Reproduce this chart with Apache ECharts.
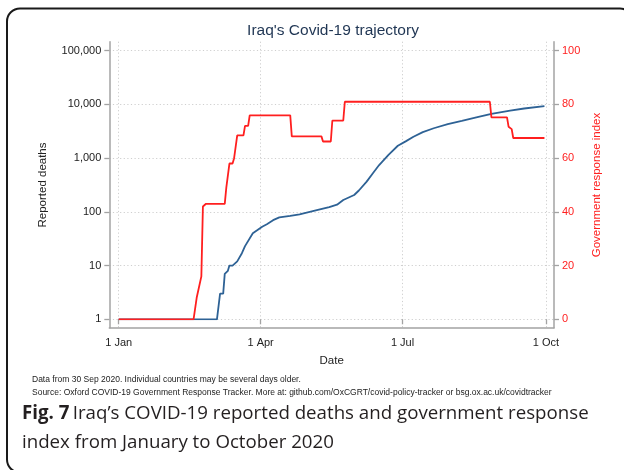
<!DOCTYPE html>
<html>
<head>
<meta charset="utf-8">
<script src="https://cdn.jsdelivr.net/npm/echarts@6/dist/echarts.min.js"></script>
<style>
  html, body { margin: 0; padding: 0; background: #fff; overflow: hidden; }
  #chart { width: 624px; height: 470px; }
</style>
</head>
<body>
<div id="chart"></div>
<script>
// Reported COVID-19 deaths in Iraq (log scale, left axis)
const deathDates = [
  '2020-01-01', '2020-03-04', '2020-03-06', '2020-03-08', '2020-03-09', '2020-03-10',
  '2020-03-11', '2020-03-12', '2020-03-14', '2020-03-17', '2020-03-18', '2020-03-20',
  '2020-03-22', '2020-03-27', '2020-03-30', '2020-04-02', '2020-04-05', '2020-04-09',
  '2020-04-13', '2020-04-20', '2020-04-26', '2020-05-09', '2020-05-15', '2020-05-20',
  '2020-05-24', '2020-05-31', '2020-06-03', '2020-06-08', '2020-06-12', '2020-06-16',
  '2020-06-22', '2020-06-28', '2020-07-03', '2020-07-08', '2020-07-14', '2020-07-21',
  '2020-07-30', '2020-08-08', '2020-08-18', '2020-08-27', '2020-09-08', '2020-09-17',
  '2020-09-30'
];
const deaths = [
  1, 1, 3, 3, 7, 7,
  8, 10, 10, 12, 13, 17,
  23, 40, 46, 53, 59, 70,
  79, 84, 90, 111, 122, 136,
  166, 206, 250, 366, 523, 744,
  1150, 1700, 2050, 2500, 3050, 3600,
  4300, 4950, 5800, 6700, 7700, 8400,
  9300
];

// Government response index (right axis)
const responseDates = [
  '2020-01-01', '2020-02-18', '2020-02-20', '2020-02-21', '2020-02-23', '2020-02-24',
  '2020-02-26', '2020-03-09', '2020-03-10', '2020-03-11', '2020-03-12', '2020-03-14',
  '2020-03-15', '2020-03-16', '2020-03-17', '2020-03-21', '2020-03-22', '2020-03-24',
  '2020-03-25', '2020-04-20', '2020-04-21', '2020-05-10', '2020-05-11', '2020-05-16',
  '2020-05-17', '2020-05-24', '2020-05-25', '2020-08-26', '2020-08-27', '2020-09-06',
  '2020-09-07', '2020-09-08', '2020-09-09', '2020-09-10', '2020-09-30'
];
const responseIndex = [
  0, 0, 8, 8, 16, 42,
  43, 43, 49, 49, 58, 58,
  60, 60, 68.5, 68.5, 72, 72,
  75.9, 75.9, 68.1, 68.1, 66.2, 66.2,
  74, 74, 81, 81, 75.2, 75.2,
  71.7, 71.7, 70.8, 67.5, 67.5
];

// Axis ticks
const xTickDates = ['2020-01-01', '2020-04-01', '2020-07-01', '2020-10-01'];
const monthNames = ['Jan', 'Feb', 'Mar', 'Apr', 'May', 'Jun', 'Jul', 'Aug', 'Sep', 'Oct', 'Nov', 'Dec'];

// dates are placed on a numeric (millisecond) axis so the quarter ticks can be set exactly
function toTime(s) {
  const p = s.split('-').map(Number);
  return new Date(p[0], p[1] - 1, p[2]).getTime();
}
const DAY = 864e5;
const xTicks = xTickDates.map(toTime);
const xMin = toTime('2020-01-01') - 6.03 * DAY;
const xMax = toTime('2020-10-01') + 5.13 * DAY;
const dateLabel = (v) => { const d = new Date(v); return d.getDate() + ' ' + monthNames[d.getMonth()]; };

const FONT = 'Liberation Sans';
const AXIS_GREY = '#a3a3a3';
const GRID_GREY = '#cfcfcf';
const RED = '#ff1f1f';
const BLUE = '#2e6295';

const chart = echarts.init(document.getElementById('chart'), null, { renderer: 'canvas' });

const hiddenFrameY = (pos) => ({
  gridIndex: 1, type: 'value', min: 0, max: 1, position: pos,
  axisLine: { show: true, lineStyle: { color: AXIS_GREY, width: 1.5 } },
  axisTick: { show: false }, axisLabel: { show: false }, splitLine: { show: false }
});

chart.setOption({
  backgroundColor: '#ffffff',
  animation: false,
  grid: [
    // data area: spans exactly from the lowest to the highest labelled tick
    { left: 109.3, right: 70, top: 50.7, bottom: 150.7, containLabel: false, outerBoundsMode: 'none' },
    // outer plot frame with its small margin around the data area
    { left: 109.3, right: 70, top: 41.7, bottom: 142.3, containLabel: false, outerBoundsMode: 'none' }
  ],
  xAxis: [
    {
      gridIndex: 0, type: 'value', min: xMin, max: xMax, position: 'bottom', offset: 8.4,
      axisLine: { show: false },
      axisTick: { show: true, customValues: xTicks, length: 5, lineStyle: { color: AXIS_GREY, width: 1.3 } },
      axisLabel: {
        customValues: xTicks, margin: 10, color: '#222', fontFamily: FONT, fontSize: 11,
        formatter: dateLabel
      },
      splitLine: { show: false },
      name: 'Date', nameLocation: 'middle', nameGap: 27,
      nameTextStyle: { color: '#222', fontFamily: FONT, fontSize: 11.5 }
    },
    {
      gridIndex: 1, type: 'value', min: xMin, max: xMax, position: 'bottom',
      axisLine: { show: true, lineStyle: { color: AXIS_GREY, width: 1.5 } },
      axisTick: { show: false, customValues: xTicks },
      axisLabel: { show: false, customValues: xTicks },
      splitLine: { show: true, lineStyle: { color: GRID_GREY, width: 1, type: [1.2, 2.4] } }
    }
  ],
  yAxis: [
    {
      gridIndex: 0, type: 'log', logBase: 10, min: 1, max: 100000, position: 'left',
      axisLine: { show: false },
      axisTick: { show: true, length: 5, lineStyle: { color: AXIS_GREY, width: 1.3 } },
      axisLabel: {
        margin: 8, color: '#222', fontFamily: FONT, fontSize: 11,
        formatter: (v) => Math.round(v).toLocaleString('en-US')
      },
      splitLine: { show: true, lineStyle: { color: GRID_GREY, width: 1, type: [1.2, 2.4] } },
      name: 'Reported deaths', nameLocation: 'middle', nameGap: 60,
      nameTextStyle: { color: '#222', fontFamily: FONT, fontSize: 11.5 }
    },
    {
      gridIndex: 0, type: 'value', min: 0, max: 100, interval: 20, position: 'right',
      axisLine: { show: false },
      axisTick: { show: true, length: 5, lineStyle: { color: AXIS_GREY, width: 1.3 } },
      axisLabel: { margin: 8, color: RED, fontFamily: FONT, fontSize: 11 },
      splitLine: { show: false },
      name: 'Government response index', nameLocation: 'middle', nameGap: 37,
      nameTextStyle: { color: RED, fontFamily: FONT, fontSize: 11.5 }
    },
    hiddenFrameY('left'),
    hiddenFrameY('right')
  ],
  series: [
    {
      name: 'Reported deaths', type: 'line', xAxisIndex: 0, yAxisIndex: 0,
      data: deathDates.map((d, i) => [toTime(d), deaths[i]]),
      showSymbol: false, symbol: 'none', smooth: false, z: 3,
      lineStyle: { color: BLUE, width: 1.8 }, itemStyle: { color: BLUE }
    },
    {
      name: 'Government response index', type: 'line', xAxisIndex: 0, yAxisIndex: 1,
      data: responseDates.map((d, i) => [toTime(d), responseIndex[i]]),
      showSymbol: false, symbol: 'none', smooth: false, z: 4,
      lineStyle: { color: RED, width: 1.8 }, itemStyle: { color: RED }
    }
  ],
  graphic: [
    {
      type: 'rect', silent: true, z: 10,
      shape: { x: 7, y: 8.5, width: 626, height: 464, r: 13 },
      style: { fill: 'none', stroke: '#1a1a1a', lineWidth: 2 }
    },
    {
      type: 'text', silent: true, x: 333, y: 31,
      style: {
        text: "Iraq's Covid-19 trajectory", textAlign: 'center', textVerticalAlign: 'middle',
        fill: '#1f3553', font: '15.5px "Liberation Sans"'
      }
    },
    {
      type: 'text', silent: true, x: 32, y: 380,
      style: {
        text: 'Data from 30 Sep 2020. Individual countries may be several days older.',
        textVerticalAlign: 'middle', fill: '#222', font: '8.5px "Liberation Sans"'
      }
    },
    {
      type: 'text', silent: true, x: 32, y: 393,
      style: {
        text: 'Source: Oxford COVID-19 Government Response Tracker. More at: github.com/OxCGRT/covid-policy-tracker or bsg.ox.ac.uk/covidtracker',
        textVerticalAlign: 'middle', fill: '#222', font: '8.5px "Liberation Sans"'
      }
    },
    {
      type: 'text', silent: true, x: 22, y: 414,
      style: {
        text: '{b|Fig. 7} {r|Iraq’s COVID-19 reported deaths and government response}',
        textVerticalAlign: 'middle',
        rich: {
          b: { fontFamily: 'Open Sans', fontSize: 18.7, fontWeight: 'bold', fill: '#231f20' },
          r: { fontFamily: 'Open Sans', fontSize: 18.7, fill: '#231f20' }
        }
      }
    },
    {
      type: 'text', silent: true, x: 22, y: 443,
      style: {
        text: 'index from January to October 2020',
        textVerticalAlign: 'middle', fill: '#231f20', font: '18.7px "Open Sans"'
      }
    }
  ]
});
</script>
</body>
</html>
